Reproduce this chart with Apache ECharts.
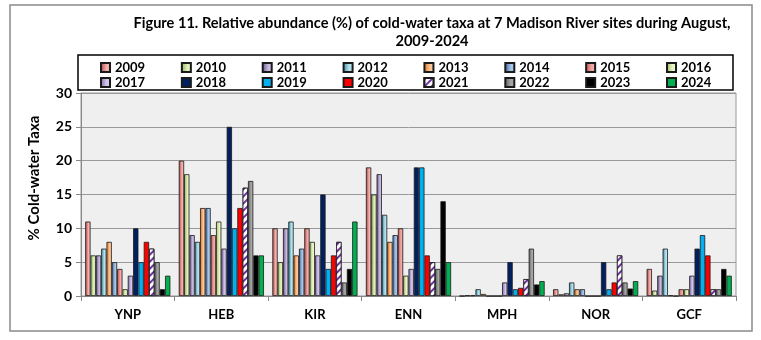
<!DOCTYPE html>
<html><head><meta charset="utf-8">
<script src="https://cdn.jsdelivr.net/npm/echarts@6/dist/echarts.min.js"></script>
<style>html,body{margin:0;padding:0;background:#fff}#c{width:761px;height:340px}</style>
</head><body><div id="c"></div>
<script>
const sites = ['YNP','HEB','KIR','ENN','MPH','NOR','GCF'];
const years = ['2009','2010','2011','2012','2013','2014','2015','2016','2017','2018','2019','2020','2021','2022','2023','2024'];
const v2009 = [11, 20, 10, 19, 0, 1, 4];
const v2010 = [6, 18, 5, 15, 0.1, 0.25, 0.8];
const v2011 = [6, 9, 10, 18, 0.1, 0.4, 3];
const v2012 = [7, 8, 11, 12, 1, 2, 7];
const v2013 = [8, 13, 6, 8, 0.3, 1, 0.1];
const v2014 = [5, 13, 7, 9, 0, 1, 0];
const v2015 = [4, 9, 10, 10, 0, 0, 1];
const v2016 = [1, 11, 8, 3, 0, 0, 1];
const v2017 = [3, 7, 6, 4, 2, 0, 3];
const v2018 = [10, 25, 15, 19, 5, 5, 7];
const v2019 = [5, 10, 4, 19, 1, 1, 9];
const v2020 = [8, 13, 6, 6, 1.2, 2, 6];
const v2021 = [7, 16, 8, 5, 2.5, 6, 1];
const v2022 = [5, 17, 2, 4, 7, 2, 1];
const v2023 = [1, 6, 4, 14, 1.7, 1.1, 4];
const v2024 = [3, 6, 11, 5, 2.2, 2.2, 3];
const yTicks = [0, 5, 10, 15, 20, 25, 30];
const values = [v2009,v2010,v2011,v2012,v2013,v2014,v2015,v2016,v2017,v2018,v2019,v2020,v2021,v2022,v2023,v2024];

function grad(c1, c2) {
  return new echarts.graphic.LinearGradient(0, 0, 1, 0, [
    {offset: 0, color: c1}, {offset: 0.6, color: c2}, {offset: 1, color: c2}
  ]);
}
const fills = [
  grad('#A5403D', '#F5B0AD'),
  grad('#8BAA4E', '#E1F0BC'),
  grad('#5F4A7B', '#C8BAE0'),
  grad('#31859C', '#B6E2EE'),
  grad('#E46C0A', '#FCC79B'),
  grad('#376092', '#A9C6EA'),
  grad('#C0504D', '#F2A8A6'),
  grad('#9BBB59', '#E8F5C8'),
  grad('#7F63A6', '#D2C4EA'),
  '#002060',
  '#00B0F0',
  '#FF0000',
  '#FFFFFF',
  grad('#595959', '#A6A6A6'),
  '#000000',
  '#00B050'
];
const FONT = 'Lato';
const series = years.map((y, i) => {
  const s = {
    name: y, type: 'bar', data: values[i],
    barGap: '0%', barCategoryGap: '9%',
    itemStyle: {color: fills[i], borderColor: '#1a1a1a', borderWidth: 0.8},
    emphasis: {disabled: true}
  };
  if (y === '2021') {
    s.itemStyle.decal = {symbol: 'rect', symbolSize: 1, dashArrayX: [1, 0], dashArrayY: [2, 3], rotation: -Math.PI / 4, color: '#7030A0', backgroundColor: '#FFFFFF'};
  }
  return s;
});
const legendCommon = {
  left: 95, itemWidth: 9, itemHeight: 9, itemGap: 35.7, icon: 'rect',
  textStyle: {fontFamily: FONT, fontWeight: 'bold', fontSize: 13, color: '#000'},
  selectedMode: false
};
const chart = echarts.init(document.getElementById('c'), null, {renderer: 'canvas'});
chart.setOption({
  animation: false,
  backgroundColor: '#fff',
  graphic: [
    {type: 'rect', shape: {x: 10, y: 5, width: 742, height: 326}, style: {fill: 'none', stroke: '#8a8a8a', lineWidth: 1.5}, z: 0},
    {type: 'rect', shape: {x: 78, y: 55, width: 655, height: 35}, style: {fill: '#fff', stroke: '#000', lineWidth: 1.5}, z: 0},
    {type: 'text', x: 432, y: 23, style: {text: 'Figure 11. Relative abundance (%) of cold-water taxa at 7 Madison River sites during August,', font: 'bold 14.6px Lato', fill: '#000', textAlign: 'center', textVerticalAlign: 'middle'}},
    {type: 'text', x: 432, y: 41, style: {text: '2009-2024', font: 'bold 14.6px Lato', fill: '#000', textAlign: 'center', textVerticalAlign: 'middle'}},
    {type: 'text', x: 34, y: 178, rotation: Math.PI / 2, style: {text: '% Cold-water Taxa', font: 'bold 15px Lato', fill: '#000', textAlign: 'center', textVerticalAlign: 'middle'}}
  ],
  legend: [
    Object.assign({}, legendCommon, {top: 56, data: years.slice(0, 8)}),
    Object.assign({}, legendCommon, {top: 71, data: years.slice(8)})
  ],
  grid: {left: 81, right: 25, top: 93, bottom: 44, show: true, backgroundColor: '#EFEFEF', borderColor: '#999', borderWidth: 1},
  xAxis: {
    type: 'category', data: sites,
    axisLine: {lineStyle: {color: '#888', width: 1}},
    axisTick: {show: true, length: 5, lineStyle: {color: '#888'}},
    axisLabel: {fontFamily: FONT, fontWeight: 'bold', fontSize: 13, color: '#000', margin: 12}
  },
  yAxis: {
    type: 'value', min: 0, max: 30, interval: 5,
    axisLine: {show: true, lineStyle: {color: '#888', width: 1}},
    axisTick: {show: true, length: 5, lineStyle: {color: '#888'}},
    splitLine: {lineStyle: {color: '#999', width: 1}},
    axisLabel: {fontFamily: FONT, fontWeight: 'bold', fontSize: 14, color: '#000', margin: 9,
      formatter: v => yTicks.includes(v) ? String(v) : ''}
  },
  series: series
});
</script></body></html>
